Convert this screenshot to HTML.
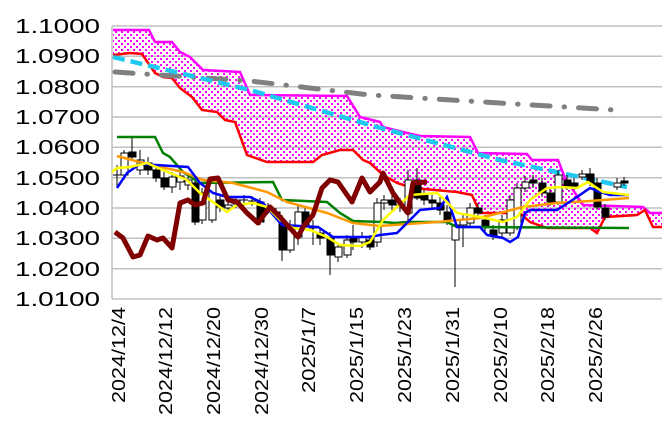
<!DOCTYPE html>
<html><head><meta charset="utf-8"><style>
html,body{margin:0;padding:0;background:#fff;}
svg{display:block;font-family:"Liberation Sans",sans-serif;}
</style></head><body>
<svg width="662" height="436" viewBox="0 0 662 436" xmlns="http://www.w3.org/2000/svg">
<defs>
<pattern id="dots" width="6" height="6" patternUnits="userSpaceOnUse">
<rect x="1" y="1" width="2" height="2" fill="#ff00ff"/>
<rect x="4" y="4" width="2" height="2" fill="#ff00ff"/>
</pattern>
</defs>
<g stroke="#c0c0c0" stroke-width="1.5">
<line x1="112" y1="26" x2="662" y2="26"/>
<line x1="112" y1="56.3" x2="662" y2="56.3"/>
<line x1="112" y1="86.7" x2="662" y2="86.7"/>
<line x1="112" y1="117" x2="662" y2="117"/>
<line x1="112" y1="147.3" x2="662" y2="147.3"/>
<line x1="112" y1="177.7" x2="662" y2="177.7"/>
<line x1="112" y1="208" x2="662" y2="208"/>
<line x1="112" y1="238.3" x2="662" y2="238.3"/>
<line x1="112" y1="268.7" x2="662" y2="268.7"/>
<line x1="112" y1="299" x2="662" y2="299"/>
<line x1="112" y1="26" x2="112" y2="299"/>
</g>
<g font-size="20" fill="#000">
<text x="15" y="33" textLength="85" lengthAdjust="spacingAndGlyphs">1.1000</text>
<text x="15" y="63" textLength="85" lengthAdjust="spacingAndGlyphs">1.0900</text>
<text x="15" y="94" textLength="85" lengthAdjust="spacingAndGlyphs">1.0800</text>
<text x="15" y="124" textLength="85" lengthAdjust="spacingAndGlyphs">1.0700</text>
<text x="15" y="154" textLength="85" lengthAdjust="spacingAndGlyphs">1.0600</text>
<text x="15" y="185" textLength="85" lengthAdjust="spacingAndGlyphs">1.0500</text>
<text x="15" y="215" textLength="85" lengthAdjust="spacingAndGlyphs">1.0400</text>
<text x="15" y="245" textLength="85" lengthAdjust="spacingAndGlyphs">1.0300</text>
<text x="15" y="276" textLength="85" lengthAdjust="spacingAndGlyphs">1.0200</text>
<text x="15" y="306" textLength="85" lengthAdjust="spacingAndGlyphs">1.0100</text>
</g>
<g font-size="18" fill="#000" text-anchor="end">
<text transform="translate(125,307) rotate(-90)" textLength="96" lengthAdjust="spacingAndGlyphs">2024/12/4</text>
<text transform="translate(172,307) rotate(-90)" textLength="108" lengthAdjust="spacingAndGlyphs">2024/12/12</text>
<text transform="translate(220,307) rotate(-90)" textLength="108" lengthAdjust="spacingAndGlyphs">2024/12/20</text>
<text transform="translate(268,307) rotate(-90)" textLength="108" lengthAdjust="spacingAndGlyphs">2024/12/30</text>
<text transform="translate(315,307) rotate(-90)" textLength="86" lengthAdjust="spacingAndGlyphs">2025/1/7</text>
<text transform="translate(363,307) rotate(-90)" textLength="96" lengthAdjust="spacingAndGlyphs">2025/1/15</text>
<text transform="translate(411,307) rotate(-90)" textLength="96" lengthAdjust="spacingAndGlyphs">2025/1/23</text>
<text transform="translate(459,307) rotate(-90)" textLength="96" lengthAdjust="spacingAndGlyphs">2025/1/31</text>
<text transform="translate(507,307) rotate(-90)" textLength="96" lengthAdjust="spacingAndGlyphs">2025/2/10</text>
<text transform="translate(554,307) rotate(-90)" textLength="96" lengthAdjust="spacingAndGlyphs">2025/2/18</text>
<text transform="translate(602,307) rotate(-90)" textLength="96" lengthAdjust="spacingAndGlyphs">2025/2/26</text>
</g>
<!-- cloud -->
<polygon fill="url(#dots)" points="113,30 149,30 155,42 172,42 180,52 190,57 203,70 240,72 250,95 347,96 360,117 380,122 383,127 403,132 420,136 470,137 478,153 527,154 532,160 558,160 565,178 583,205 643,207 650,213 662,213 662,227 653,227 645,210 637,215 605,217 597,233 590,228 547,228 530,222 520,213 480,213 472,195 457,192 413,188 397,183 383,175 370,163 363,160 353,150 340,150 322,155 313,162 267,162 247,155 235,122 225,120 217,112 202,110 192,97 180,88 172,78 163,77 155,73 142,54 130,53 113,55"/>
<polyline fill="none" stroke="#ff00ff" stroke-width="2.5" points="113,30 149,30 155,42 172,42 180,52 190,57 203,70 240,72 250,95 347,96 360,117 380,122 383,127 403,132 420,136 470,137 478,153 527,154 532,160 558,160 565,178 583,205 643,207 650,213 662,213"/>
<polyline fill="none" stroke="#ff0000" stroke-width="2.5" points="113,55 130,53 142,54 155,73 163,77 172,78 180,88 192,97 202,110 217,112 225,120 235,122 247,155 267,162 313,162 322,155 340,150 353,150 363,160 370,163 383,175 397,183 413,188 457,192 472,195 480,213 520,213 530,222 547,228 590,228 597,233 605,217 637,215 645,210 653,227 662,227"/>
<polyline fill="none" stroke="#808080" stroke-width="5" stroke-linecap="round" stroke-dasharray="18,14,0.5,14" points="115,72 250,81 370,95 500,103 615,110"/>
<polyline fill="none" stroke="#1ec8f0" stroke-width="4.5" stroke-dasharray="12,6" points="113,57 250,90 377,127 500,160 627,187"/>
<g stroke="#000" stroke-width="1">
<line x1="117" y1="165" x2="117" y2="187"/><line x1="113" y1="175" x2="121" y2="175"/>
<line x1="124" y1="150" x2="124" y2="180"/><rect x="121" y="153" width="7" height="22" fill="#fff"/>
<line x1="132" y1="138" x2="132" y2="160"/><rect x="129" y="152" width="7" height="5" fill="#000"/>
<line x1="140" y1="150" x2="140" y2="175"/><rect x="137" y="160" width="7" height="10" fill="#fff"/>
<line x1="148" y1="157" x2="148" y2="175"/><rect x="145" y="163" width="7" height="7" fill="#000"/>
<line x1="156" y1="165" x2="156" y2="182"/><rect x="153" y="170" width="7" height="8" fill="#000"/>
<line x1="164" y1="172" x2="164" y2="190"/><rect x="161" y="178" width="7" height="9" fill="#000"/>
<line x1="172" y1="172" x2="172" y2="193"/><rect x="169" y="177" width="7" height="10" fill="#fff"/>
<line x1="180" y1="170" x2="180" y2="190"/><rect x="177" y="176" width="7" height="6" fill="#fff"/>
<line x1="188" y1="176" x2="188" y2="190"/><rect x="185" y="180" width="7" height="5" fill="#fff"/>
<line x1="195" y1="180" x2="195" y2="225"/><rect x="192" y="183" width="7" height="39" fill="#000"/>
<line x1="202" y1="188" x2="202" y2="224"/><rect x="199" y="193" width="7" height="27" fill="#fff"/>
<line x1="212" y1="180" x2="212" y2="223"/><rect x="209" y="183" width="7" height="37" fill="#fff"/>
<line x1="220" y1="196" x2="220" y2="212"/><rect x="217" y="200" width="7" height="7" fill="#000"/>
<line x1="228" y1="200" x2="228" y2="212"/><rect x="225" y="205" width="7" height="3" fill="#fff"/>
<line x1="236" y1="196" x2="236" y2="208"/><rect x="233" y="200" width="7" height="4" fill="#fff"/>
<line x1="244" y1="195" x2="244" y2="206"/><line x1="240" y1="200" x2="248" y2="200"/>
<line x1="252" y1="196" x2="252" y2="206"/><line x1="248" y1="201" x2="256" y2="201"/>
<line x1="260" y1="198" x2="260" y2="225"/><rect x="257" y="202" width="7" height="20" fill="#000"/>
<line x1="268" y1="203" x2="268" y2="214"/><rect x="265" y="206" width="7" height="4" fill="#fff"/>
<line x1="276" y1="208" x2="276" y2="220"/><rect x="273" y="212" width="7" height="4" fill="#000"/>
<line x1="282" y1="215" x2="282" y2="261"/><rect x="279" y="223" width="7" height="27" fill="#000"/>
<line x1="290" y1="220" x2="290" y2="253"/><rect x="287" y="225" width="7" height="25" fill="#fff"/>
<line x1="298" y1="205" x2="298" y2="245"/><rect x="295" y="212" width="7" height="25" fill="#fff"/>
<line x1="305" y1="208" x2="305" y2="230"/><rect x="302" y="212" width="7" height="13" fill="#000"/>
<line x1="313" y1="220" x2="313" y2="245"/><line x1="309" y1="228" x2="317" y2="228"/>
<line x1="320" y1="228" x2="320" y2="245"/><rect x="317" y="233" width="7" height="5" fill="#000"/>
<line x1="330" y1="232" x2="330" y2="275"/><rect x="327" y="238" width="7" height="17" fill="#000"/>
<line x1="338" y1="243" x2="338" y2="262"/><rect x="335" y="247" width="7" height="10" fill="#fff"/>
<line x1="347" y1="235" x2="347" y2="258"/><rect x="344" y="240" width="7" height="15" fill="#fff"/>
<line x1="353" y1="225" x2="353" y2="250"/><rect x="350" y="238" width="7" height="4" fill="#000"/>
<line x1="362" y1="232" x2="362" y2="248"/><rect x="359" y="237" width="7" height="5" fill="#fff"/>
<line x1="370" y1="235" x2="370" y2="250"/><rect x="367" y="240" width="7" height="7" fill="#000"/>
<line x1="377" y1="198" x2="377" y2="247"/><rect x="374" y="203" width="7" height="39" fill="#fff"/>
<line x1="384" y1="195" x2="384" y2="210"/><rect x="381" y="200" width="7" height="3" fill="#fff"/>
<line x1="392" y1="195" x2="392" y2="212"/><rect x="389" y="200" width="7" height="5" fill="#000"/>
<line x1="400" y1="198" x2="400" y2="212"/><line x1="396" y1="205" x2="404" y2="205"/>
<line x1="408" y1="170" x2="408" y2="222"/><rect x="405" y="180" width="7" height="33" fill="#fff"/>
<line x1="417" y1="168" x2="417" y2="200"/><rect x="414" y="180" width="7" height="18" fill="#000"/>
<line x1="424" y1="190" x2="424" y2="205"/><rect x="421" y="195" width="7" height="5" fill="#000"/>
<line x1="432" y1="195" x2="432" y2="208"/><rect x="429" y="200" width="7" height="3" fill="#000"/>
<line x1="440" y1="197" x2="440" y2="215"/><rect x="437" y="203" width="7" height="7" fill="#000"/>
<line x1="447" y1="205" x2="447" y2="225"/><rect x="444" y="212" width="7" height="8" fill="#000"/>
<line x1="455" y1="218" x2="455" y2="287"/><rect x="452" y="225" width="7" height="15" fill="#fff"/>
<line x1="463" y1="215" x2="463" y2="247"/><rect x="460" y="220" width="7" height="5" fill="#fff"/>
<line x1="470" y1="203" x2="470" y2="228"/><rect x="467" y="208" width="7" height="15" fill="#fff"/>
<line x1="478" y1="203" x2="478" y2="218"/><rect x="475" y="208" width="7" height="5" fill="#000"/>
<line x1="485" y1="215" x2="485" y2="232"/><rect x="482" y="220" width="7" height="7" fill="#000"/>
<line x1="493" y1="225" x2="493" y2="240"/><rect x="490" y="230" width="7" height="5" fill="#000"/>
<line x1="502" y1="215" x2="502" y2="238"/><rect x="499" y="220" width="7" height="13" fill="#fff"/>
<line x1="510" y1="195" x2="510" y2="236"/><rect x="507" y="200" width="7" height="33" fill="#fff"/>
<line x1="517" y1="183" x2="517" y2="230"/><rect x="514" y="188" width="7" height="39" fill="#fff"/>
<line x1="525" y1="176" x2="525" y2="192"/><rect x="522" y="182" width="7" height="6" fill="#fff"/>
<line x1="533" y1="175" x2="533" y2="188"/><rect x="530" y="180" width="7" height="3" fill="#000"/>
<line x1="542" y1="178" x2="542" y2="197"/><rect x="539" y="183" width="7" height="10" fill="#000"/>
<line x1="550" y1="188" x2="550" y2="206"/><rect x="547" y="193" width="7" height="9" fill="#000"/>
<line x1="558" y1="170" x2="558" y2="205"/><rect x="555" y="175" width="7" height="27" fill="#fff"/>
<line x1="567" y1="175" x2="567" y2="190"/><rect x="564" y="180" width="7" height="7" fill="#000"/>
<line x1="574" y1="178" x2="574" y2="190"/><rect x="571" y="183" width="7" height="4" fill="#000"/>
<line x1="582" y1="170" x2="582" y2="180"/><rect x="579" y="174" width="7" height="3" fill="#fff"/>
<line x1="590" y1="168" x2="590" y2="186"/><rect x="587" y="174" width="7" height="9" fill="#000"/>
<line x1="597" y1="178" x2="597" y2="210"/><rect x="594" y="183" width="7" height="24" fill="#000"/>
<line x1="605" y1="204" x2="605" y2="220"/><rect x="602" y="208" width="7" height="9" fill="#000"/>
<line x1="617" y1="178" x2="617" y2="190"/><rect x="614" y="183" width="7" height="4" fill="#fff"/>
<line x1="624" y1="177" x2="624" y2="186"/><rect x="621" y="181" width="7" height="2" fill="#000"/>
</g>
<polyline fill="none" stroke="#008000" stroke-width="2.5" points="117,137 155,137 163,153 170,157 183,172 200,183 273,182 282,200 327,202 340,213 353,221 383,222 395,223 407,222 447,222 457,227 629,228"/>
<polyline fill="none" stroke="#ff9900" stroke-width="2.5" points="117,156 143,163 183,172 203,180 233,183 267,192 287,202 327,213 353,223 380,226 437,222 480,218 523,207 557,203 590,201 629,198"/>
<polyline fill="none" stroke="#0000ff" stroke-width="2.5" points="117,188 127,173 140,164 188,167 200,183 213,193 227,197 250,197 263,203 282,225 318,227 333,237 370,237 380,235 397,233 403,227 420,210 440,208 447,197 457,227 480,227 487,235 503,238 510,242 518,237 525,213 530,210 557,210 577,197 590,188 600,192 610,195 629,195"/>
<polyline fill="none" stroke="#ffff00" stroke-width="2.5" points="112,172 117,168 130,167 147,163 163,170 187,180 200,193 213,202 227,212 237,205 253,203 267,207 280,220 293,228 310,230 327,237 340,245 360,246 370,242 383,220 397,207 410,195 437,193 447,202 457,213 480,217 503,222 517,217 530,200 547,188 560,187 577,188 588,182 603,192 629,195"/>
<polyline fill="none" stroke="#800000" stroke-width="5" stroke-linejoin="round" points="115,232 123,238 133,257 140,255 148,236 157,240 163,238 172,248 180,203 188,200 195,205 203,203 210,179 218,178 228,200 237,202 247,213 258,223 270,207 280,217 298,237 303,227 313,215 322,188 330,180 338,182 352,202 362,178 370,192 380,182 383,173 393,193 403,207 408,213 413,183 427,182"/>
</svg>
</body></html>
